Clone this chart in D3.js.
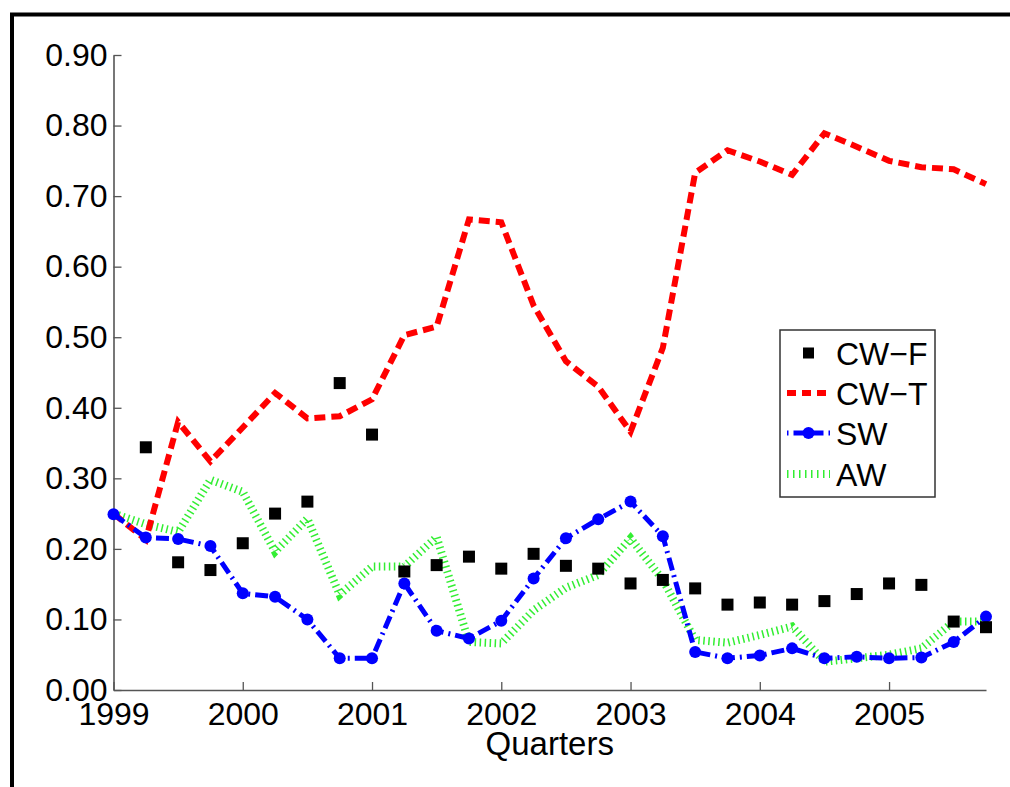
<!DOCTYPE html>
<html>
<head>
<meta charset="utf-8">
<script src="https://cdn.jsdelivr.net/npm/d3@7"></script>
<style>
  html, body { margin: 0; padding: 0; background: #fff; }
  svg { display: block; font-family: "Liberation Sans", Arial, sans-serif; }
</style>
</head>
<body>
<svg id="chart" width="1010" height="787"></svg>
<script>
// Quarterly observations, 1999 Q1 – 2005 Q4
const quarters = [1999, 1999.25, 1999.5, 1999.75, 2000, 2000.25, 2000.5, 2000.75,
                  2001, 2001.25, 2001.5, 2001.75, 2002, 2002.25, 2002.5, 2002.75,
                  2003, 2003.25, 2003.5, 2003.75, 2004, 2004.25, 2004.5, 2004.75,
                  2005, 2005.25, 2005.5, 2005.75];

const cwF = [null, 0.344, 0.181, 0.170, 0.208, 0.250, 0.267, 0.435,
             0.362, 0.168, 0.177, 0.189, 0.172, 0.193, 0.176, 0.172,
             0.151, 0.156, 0.144, 0.121, 0.124, 0.121, 0.126, 0.136,
             0.151, 0.149, 0.097, 0.089];

const cwT = [0.250, 0.213, 0.380, 0.324, 0.372, 0.421, 0.385, 0.388,
             0.412, 0.503, 0.515, 0.667, 0.663, 0.545, 0.466, 0.430,
             0.366, 0.485, 0.733, 0.765, 0.749, 0.730, 0.789, 0.770,
             0.750, 0.741, 0.738, 0.717];

const sw  = [0.249, 0.216, 0.214, 0.204, 0.137, 0.132, 0.100, 0.045,
             0.045, 0.151, 0.084, 0.073, 0.098, 0.158, 0.215, 0.242,
             0.267, 0.218, 0.054, 0.045, 0.049, 0.059, 0.045, 0.047,
             0.045, 0.046, 0.068, 0.104];

const aw  = [0.250, 0.235, 0.224, 0.298, 0.281, 0.196, 0.243, 0.135,
             0.175, 0.175, 0.217, 0.068, 0.066, 0.113, 0.145, 0.163,
             0.215, 0.156, 0.071, 0.067, 0.078, 0.090, 0.040, 0.045,
             0.050, 0.059, 0.097, 0.097];

const xTicks = [1999, 2000, 2001, 2002, 2003, 2004, 2005];
const yTicks = [0, 0.1, 0.2, 0.3, 0.4, 0.5, 0.6, 0.7, 0.8, 0.9];
const seriesNames = ["CW\u2212F", "CW\u2212T", "SW", "AW"];
const xTitle = "Quarters";

const svg = d3.select("#chart");

// outer frame (runs off the right and bottom edges)
svg.append("rect")
  .attr("x", 12).attr("y", 14.5)
  .attr("width", 1100).attr("height", 900)
  .attr("fill", "none").attr("stroke", "#000").attr("stroke-width", 4);

const x = d3.scaleLinear().domain([1999, 2005.75]).range([113.5, 986]);
const y = d3.scaleLinear().domain([0, 0.9]).range([690, 55]);

const axisColor = "#555";
const tickFont = 32;

// y axis: inward ticks, right-aligned labels
const yAxis = svg.append("g").attr("transform", `translate(${x.range()[0]},0)`)
  .call(d3.axisLeft(y).tickValues(yTicks).tickFormat(d3.format(".2f")).tickSizeInner(-8).tickSizeOuter(0).tickPadding(6));
yAxis.select(".domain").attr("stroke", axisColor).attr("stroke-width", 1.6);
yAxis.selectAll(".tick line").attr("stroke", axisColor).attr("stroke-width", 1.3);
yAxis.selectAll(".tick text").attr("fill", "#000").attr("font-size", tickFont)
  .attr("font-family", "Liberation Sans, Arial, sans-serif");

// x axis: inward ticks
const xAxis = svg.append("g").attr("transform", `translate(0,${y.range()[0]})`)
  .call(d3.axisBottom(x).tickValues(xTicks).tickFormat(d3.format("d")).tickSizeInner(-8).tickSizeOuter(0).tickPadding(12));
xAxis.select(".domain").attr("stroke", axisColor).attr("stroke-width", 1.6);
xAxis.selectAll(".tick line").attr("stroke", axisColor).attr("stroke-width", 1.3);
xAxis.selectAll(".tick text").attr("fill", "#000").attr("font-size", tickFont)
  .attr("font-family", "Liberation Sans, Arial, sans-serif");

svg.append("text")
  .attr("x", (x.range()[0] + x.range()[1]) / 2).attr("y", 755)
  .attr("text-anchor", "middle").attr("font-size", 33).attr("fill", "#000")
  .text(xTitle);

const line = vals => d3.line()
  .defined(d => d[1] != null)
  .x(d => x(d[0])).y(d => y(d[1]))(quarters.map((q, i) => [q, vals[i]]));

const styles = {
  cwT: { stroke: "#ff0000", width: 6, dash: "11,6" },
  sw:  { stroke: "#0000ff", width: 5, dash: "13,5,2,5" },
  aw:  { stroke: "#33ee33", width: 8, dash: "1.5,3.5" }
};

// AW dotted band
svg.append("path").attr("d", line(aw))
  .attr("fill", "none").attr("stroke", styles.aw.stroke)
  .attr("stroke-width", styles.aw.width).attr("stroke-dasharray", styles.aw.dash);

// CW-T dashed
svg.append("path").attr("d", line(cwT))
  .attr("fill", "none").attr("stroke", styles.cwT.stroke)
  .attr("stroke-width", styles.cwT.width).attr("stroke-dasharray", styles.cwT.dash);

// SW dash-dot with circle markers
svg.append("path").attr("d", line(sw))
  .attr("fill", "none").attr("stroke", styles.sw.stroke)
  .attr("stroke-width", styles.sw.width).attr("stroke-dasharray", styles.sw.dash);
svg.append("g").selectAll("circle")
  .data(quarters.map((q, i) => [q, sw[i]]))
  .join("circle")
  .attr("cx", d => x(d[0])).attr("cy", d => y(d[1])).attr("r", 6)
  .attr("fill", "#0000ff");

// CW-F square markers
const sq = 12;
svg.append("g").selectAll("rect")
  .data(quarters.map((q, i) => [q, cwF[i]]).filter(d => d[1] != null))
  .join("rect")
  .attr("x", d => x(d[0]) - sq / 2).attr("y", d => y(d[1]) - sq / 2)
  .attr("width", sq).attr("height", sq).attr("fill", "#000");

// legend
const lg = svg.append("g");
lg.append("rect").attr("x", 780).attr("y", 330).attr("width", 155).attr("height", 167)
  .attr("fill", "#fff").attr("stroke", "#333").attr("stroke-width", 1.5);
const rowY = [353, 393, 433, 474];
const sx0 = 787, sx1 = 830, tx = 836;
// CW-F
lg.append("rect").attr("x", (sx0 + sx1) / 2 - 5.5).attr("y", rowY[0] - 5.5)
  .attr("width", 11).attr("height", 11).attr("fill", "#000");
// CW-T
lg.append("line").attr("x1", sx0).attr("x2", sx1).attr("y1", rowY[1]).attr("y2", rowY[1])
  .attr("stroke", styles.cwT.stroke).attr("stroke-width", styles.cwT.width)
  .attr("stroke-dasharray", "9,6");
// SW
lg.append("line").attr("x1", sx0).attr("x2", sx1).attr("y1", rowY[2]).attr("y2", rowY[2])
  .attr("stroke", styles.sw.stroke).attr("stroke-width", styles.sw.width)
  .attr("stroke-dasharray", "1.5,5,30,5");
lg.append("circle").attr("cx", (sx0 + sx1) / 2).attr("cy", rowY[2]).attr("r", 6).attr("fill", "#0000ff");
// AW
lg.append("line").attr("x1", sx0).attr("x2", sx1).attr("y1", rowY[3]).attr("y2", rowY[3])
  .attr("stroke", styles.aw.stroke).attr("stroke-width", 8)
  .attr("stroke-dasharray", "1.5,4.5");
lg.selectAll("text.lbl").data(seriesNames).join("text").attr("class", "lbl")
  .attr("x", tx).attr("y", (d, i) => rowY[i]).attr("dy", "0.36em")
  .attr("font-size", tickFont).attr("fill", "#000")
  .text(d => d);
</script>
</body>
</html>
